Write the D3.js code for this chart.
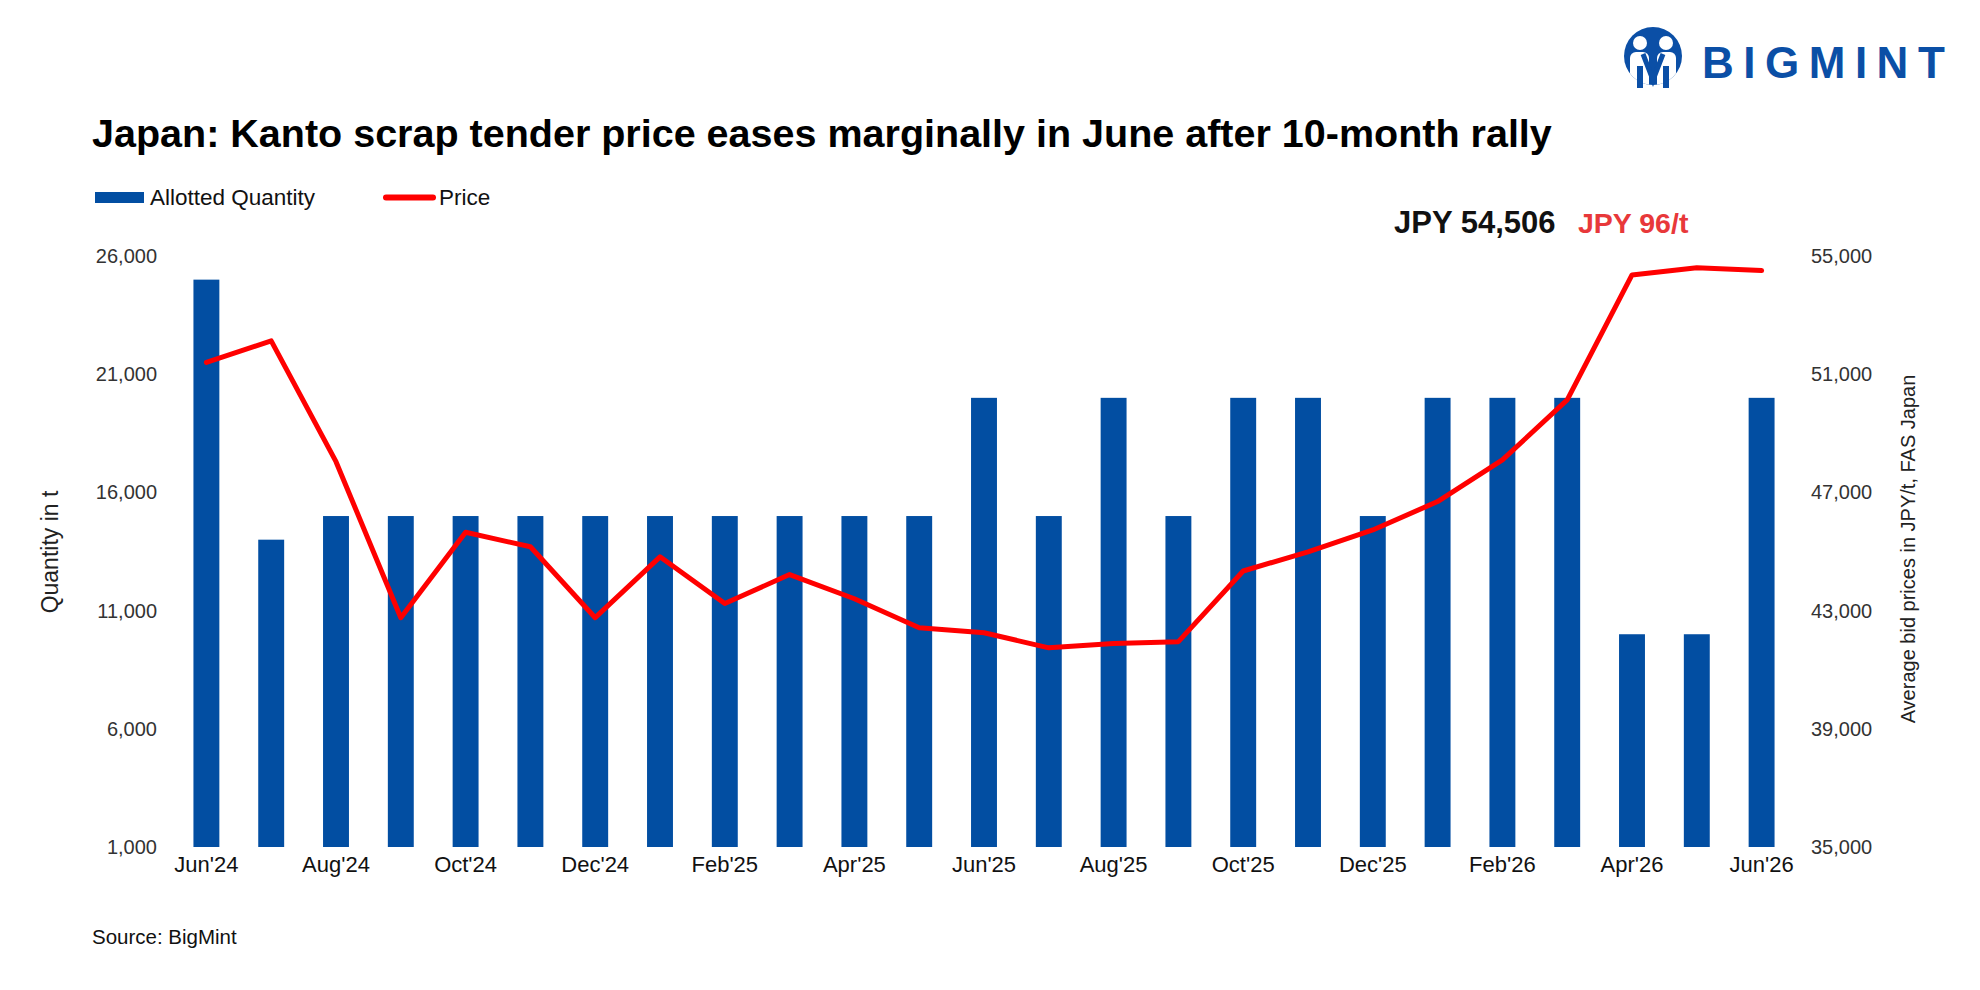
<!DOCTYPE html>
<html>
<head>
<meta charset="utf-8">
<script src="https://cdn.jsdelivr.net/npm/d3@7"></script>
<style>
  html, body { margin: 0; padding: 0; background: #ffffff; }
  svg { display: block; }
  text { font-family: "Liberation Sans", Arial, sans-serif; }
</style>
</head>
<body>
<svg id="chart" width="1980" height="990"></svg>
<script>
// ---------------- data ----------------
const months = ["Jun'24","Jul'24","Aug'24","Sep'24","Oct'24","Nov'24","Dec'24","Jan'25","Feb'25","Mar'25","Apr'25","May'25",
                "Jun'25","Jul'25","Aug'25","Sep'25","Oct'25","Nov'25","Dec'25","Jan'26","Feb'26","Mar'26","Apr'26","May'26","Jun'26"];
const quantity = [25000,14000,15000,15000,15000,15000,15000,15000,15000,15000,15000,15000,
                  20000,15000,20000,15000,20000,20000,15000,20000,20000,20000,10000,10000,20000];
const price = [51400,52130,48040,42760,45650,45160,42760,44820,43240,44220,43400,42420,
               42250,41740,41890,41950,44340,44990,45730,46690,48100,50130,54360,54600,54506];
const xTickLabels = ["Jun'24","Aug'24","Oct'24","Dec'24","Feb'25","Apr'25","Jun'25","Aug'25","Oct'25","Dec'25","Feb'26","Apr'26","Jun'26"];
const leftTicks = [1000,6000,11000,16000,21000,26000];
const rightTicks = [35000,39000,43000,47000,51000,55000];
const seriesNames = ["Allotted Quantity","Price"];
const titleText = "Japan: Kanto scrap tender price eases marginally in June after 10-month rally";
const annoPrice = "JPY 54,506";
const annoChange = "JPY 96/t";
const sourceText = "Source: BigMint";

// ---------------- styles ----------------
const BLUE = "#024ea2";
const RED = "#ff0000";
const svg = d3.select("#chart");

const x = d3.scaleBand().domain(months).range([174, 1794]).paddingInner(0.6).paddingOuter(0.3);
const yL = d3.scaleLinear().domain([1000, 26000]).range([847, 256]);
const yR = d3.scaleLinear().domain([35000, 55000]).range([847, 256]);

// bars
svg.append("g").selectAll("rect").data(months).join("rect")
  .attr("x", d => x(d))
  .attr("width", x.bandwidth())
  .attr("y", (d, i) => yL(quantity[i]))
  .attr("height", (d, i) => yL(1000) - yL(quantity[i]))
  .attr("fill", BLUE);

// line
const line = d3.line().x((d, i) => x(months[i]) + x.bandwidth() / 2).y(d => yR(d));
svg.append("path").datum(price)
  .attr("d", line)
  .attr("fill", "none")
  .attr("stroke", RED)
  .attr("stroke-width", 5)
  .attr("stroke-linejoin", "round")
  .attr("stroke-linecap", "round");

// axes
const leftAxis = d3.axisLeft(yL).tickValues(leftTicks).tickFormat(d3.format(",")).tickSize(0).tickPadding(0);
const gL = svg.append("g").attr("transform", "translate(157,0)").call(leftAxis);
gL.select(".domain").remove();
gL.selectAll("text").attr("font-size", 20).attr("fill", "#333").attr("font-family", "Liberation Sans, Arial, sans-serif");

const rightAxis = d3.axisRight(yR).tickValues(rightTicks).tickFormat(d3.format(",")).tickSize(0).tickPadding(0);
const gR = svg.append("g").attr("transform", "translate(1811,0)").call(rightAxis);
gR.select(".domain").remove();
gR.selectAll("text").attr("font-size", 20).attr("fill", "#333").attr("font-family", "Liberation Sans, Arial, sans-serif");

const bottomAxis = d3.axisBottom(x).tickValues(xTickLabels).tickSize(0).tickPadding(0);
const gB = svg.append("g").attr("transform", "translate(0,856)").call(bottomAxis);
gB.select(".domain").remove();
gB.selectAll("text").attr("font-size", 22).attr("fill", "#111").attr("dy", "0.71em").attr("font-family", "Liberation Sans, Arial, sans-serif");

// axis titles
svg.append("text").attr("transform", "translate(58,552) rotate(-90)")
  .attr("text-anchor", "middle").attr("font-size", 23).attr("fill", "#222").text("Quantity in t");
svg.append("text").attr("transform", "translate(1915,549) rotate(-90)")
  .attr("text-anchor", "middle").attr("font-size", 20).attr("fill", "#222").text("Average bid prices in JPY/t, FAS Japan");

// title
svg.append("text").attr("x", 92).attr("y", 147).attr("font-size", 39.5).attr("font-weight", "bold")
  .attr("fill", "#000").text(titleText);

// legend
svg.append("rect").attr("x", 95).attr("y", 192).attr("width", 49).attr("height", 11).attr("fill", BLUE);
svg.append("text").attr("x", 150).attr("y", 205).attr("font-size", 22.5).attr("fill", "#111").text(seriesNames[0]);
svg.append("line").attr("x1", 386).attr("x2", 433).attr("y1", 197.5).attr("y2", 197.5)
  .attr("stroke", RED).attr("stroke-width", 6).attr("stroke-linecap", "round");
svg.append("text").attr("x", 439).attr("y", 205).attr("font-size", 22.5).attr("fill", "#111").text(seriesNames[1]);

// annotations
svg.append("text").attr("x", 1394).attr("y", 233).attr("font-size", 31).attr("font-weight", "bold")
  .attr("fill", "#111").text(annoPrice);
svg.append("text").attr("x", 1578).attr("y", 233).attr("font-size", 28.5).attr("font-weight", "bold")
  .attr("fill", "#e8383a").text(annoChange);

// source
svg.append("text").attr("x", 92).attr("y", 944).attr("font-size", 20.5).attr("fill", "#111").text(sourceText);

// logo
const logo = svg.append("g");
const LB = "#0b4fa6";
logo.append("defs").append("clipPath").attr("id", "lc").append("circle").attr("cx", 1653).attr("cy", 56).attr("r", 29);
logo.append("circle").attr("cx", 1653).attr("cy", 56).attr("r", 29).attr("fill", LB);
const inner = logo.append("g").attr("clip-path", "url(#lc)");
inner.append("rect").attr("x", 1630).attr("y", 52).attr("width", 19).attr("height", 40).attr("rx", 6).attr("fill", "#fff");
inner.append("rect").attr("x", 1657).attr("y", 52).attr("width", 19).attr("height", 40).attr("rx", 6).attr("fill", "#fff");
logo.append("circle").attr("cx", 1640).attr("cy", 43).attr("r", 7).attr("fill", "#fff");
logo.append("circle").attr("cx", 1666).attr("cy", 43).attr("r", 7).attr("fill", "#fff");
logo.append("path").attr("d", "M1643,54 L1653,80 L1663,54").attr("fill", "none").attr("stroke", LB).attr("stroke-width", 5);
logo.append("rect").attr("x", 1637).attr("y", 66).attr("width", 6).attr("height", 22).attr("fill", LB);
logo.append("rect").attr("x", 1663).attr("y", 66).attr("width", 6).attr("height", 22).attr("fill", LB);
logo.append("text").attr("x", 1702).attr("y", 78).attr("font-size", 44).attr("font-weight", "bold")
  .attr("letter-spacing", 9.5).attr("fill", LB).attr("font-family", "Montserrat, 'Open Sans', 'Liberation Sans', sans-serif")
  .text("BIGMINT");
</script>
</body>
</html>
